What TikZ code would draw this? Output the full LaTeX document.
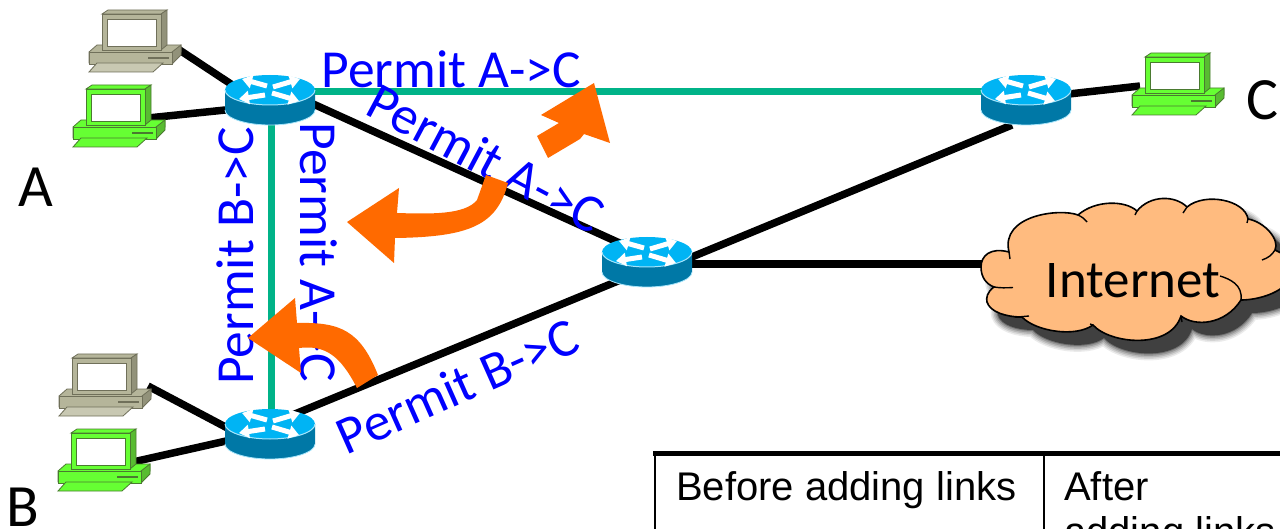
\documentclass[tikz,border=0pt]{standalone}
\usepackage{fontspec}
\setmainfont{Carlito}
\newfontfamily\arialfont{Liberation Sans}
\usetikzlibrary{arrows.meta}
\definecolor{rtop}{HTML}{00B4F4}
\definecolor{rside}{HTML}{0078A6}
\definecolor{linkgreen}{HTML}{00B388}
\definecolor{orangearrow}{HTML}{FF6A00}
\definecolor{cloudfill}{HTML}{FFBB7F}
\definecolor{pcgreen}{HTML}{66FF33}
\definecolor{pcgreendark}{HTML}{4A7A30}
\definecolor{pcbeige}{HTML}{B5B59A}
\definecolor{pcbeigedark}{HTML}{70705A}
\definecolor{pcbeigelight}{HTML}{C8C8B2}
\newcommand{\cloudpath}{(1009,252) .. controls (990,247) and (981,256) .. (981,267) .. controls (981,277) and (986,284) .. (994,287)
 .. controls (987,292) and (986,298) .. (987,302) .. controls (990,312) and (1006,317) .. (1022,317)
 .. controls (1035,331) and (1075,338) .. (1093,325)
 .. controls (1110,344) and (1170,350) .. (1181,316)
 .. controls (1195,327) and (1225,325) .. (1241,300)
 .. controls (1255,300) and (1275,295) .. (1285,285) -- (1285,255) -- (1275,250)
 .. controls (1280,240) and (1265,222) .. (1248,219)
 .. controls (1245,200) and (1205,192) .. (1187,207)
 .. controls (1175,195) and (1150,195) .. (1137,211)
 .. controls (1125,200) and (1095,200) .. (1078,215)
 .. controls (1060,208) and (1000,215) .. (1009,252) -- cycle}
\tikzset{
  wire/.style={line width=7.5pt,black},
  greenlink/.style={line width=7pt,linkgreen},
  bluetext/.style={text=blue,inner sep=0pt,font=\fontsize{53.5}{64}\selectfont},
  blacktext/.style={text=black,inner sep=0pt,font=\fontsize{53}{64}\selectfont},
  bigletter/.style={text=black,inner sep=0pt,font=\fontsize{60}{72}\selectfont},
  tabletext/.style={text=black,inner sep=0pt,anchor=base west,font=\arialfont\fontsize{40}{48}\selectfont},
  orangeshape/.style={fill=orangearrow,draw=none},
  rarrow/.style={white,line width=5pt,-{Triangle[length=10pt,width=13pt]}},
  pics/router/.style={code={
    \fill[rside] (-45,0) -- (-45,20) .. controls (-45,28) and (-25,35) .. (0,35) .. controls (25,35) and (45,28) .. (45,20) -- (45,0) -- cycle;
    \draw[rtop!35!white,line width=0.8pt] (-45,20) .. controls (-45,28) and (-25,35) .. (0,35) .. controls (25,35) and (45,28) .. (45,20);
    \fill[rtop] (0,0) ellipse [x radius=45pt,y radius=15pt];
    \draw[rtop!35!white,line width=1pt] (-45,0) .. controls (-45,8) and (-25,15) .. (0,15) .. controls (25,15) and (45,8) .. (45,0);
    \draw[rarrow] (-3,-4) -- (-28,-11);
    \draw[rarrow] (3,-3) -- (30,-11);
    \draw[rarrow] (-5,5) -- (-31,9);
    \draw[rarrow] (2,3) -- (29,11);
  }},
  pics/computer/.style n args={3}{code={
    \filldraw[fill=#1,draw=#2,line width=0.8pt] (-13,38) -- (-5,31) -- (79,31) -- (79,38) -- (71,49) -- (-13,49) -- cycle;
    \filldraw[fill=#2!50!#1,draw=#2,line width=0.8pt] (70,38) -- (79,31) -- (79,41) -- (70,50) -- cycle;
    \filldraw[fill=#1,draw=#2,line width=0.8pt] (-13,38) rectangle (70,50);
    \draw[#2,line width=1.2pt] (46,44) -- (67,44);
    \filldraw[fill=#3,draw=#2,line width=0.8pt] (-13,58) -- (-5,49) -- (61,49) -- (51,58) -- cycle;
    \filldraw[fill=#1,draw=#2,line width=0.8pt] (0,0) -- (6,-4) -- (65,-4) -- (59,0) -- cycle;
    \filldraw[fill=#2!50!#1,draw=#2,line width=0.8pt] (59,0) -- (65,-4) -- (65,31) -- (59,36) -- cycle;
    \filldraw[fill=#1,draw=#2,line width=0.8pt] (0,0) rectangle (59,36);
    \filldraw[fill=white,draw=#2,line width=0.8pt] (5,5) rectangle (54,32);
  }},
}
\begin{document}
\begin{tikzpicture}[x=1pt,y=-1pt]
\useasboundingbox (0,0) rectangle (1280,529);
\clip (0,0) rectangle (1280,529);
\fill[white] (0,0) rectangle (1280,529);
\coordinate (rA) at (270,90);
\coordinate (rC) at (1026,90);
\coordinate (rM) at (647,252);
\coordinate (rB) at (270,424);
\coordinate (pcA1) at (102,14);
\coordinate (pcA2) at (86,89);
\coordinate (pcB1) at (72,358);
\coordinate (pcB2) at (71,433);
\coordinate (pcC) at (1145,57);
\coordinate (pA1) at (178,49);
\coordinate (rA1) at (240,90);
\coordinate (pA2) at (148,118);
\coordinate (rA2) at (235,109);
\coordinate (pB1) at (148,386);
\coordinate (rB1) at (235,432);
\coordinate (pB2) at (133,462);
\coordinate (rB2) at (235,439);
\coordinate (pC1) at (1140,86);
\coordinate (rC1) at (1060,95);
\coordinate (rAm) at (300,98);
\coordinate (rMa) at (635,250);
\coordinate (rMc) at (670,266);
\coordinate (rCm) at (1012,125);
\coordinate (rMb) at (635,274);
\coordinate (rBm) at (290,416);
\coordinate (rMn) at (680,264);
\coordinate (cloudL) at (990,264);
\draw[greenlink] (rA) ++(30,2) coordinate (gA) -- (gA -| rC);
\draw[greenlink] (271,110) coordinate (gAd) -- (271,420) coordinate (gBu);
\draw[wire] (pA1) -- (rA1);
\draw[wire] (pA2) -- (rA2);
\draw[wire] (pB1) -- (rB1);
\draw[wire] (pB2) -- (rB2);
\draw[wire] (pC1) -- (rC1);
\draw[wire] (rAm) -- (rMa);
\draw[wire] (rMc) -- (rCm);
\draw[wire] (rMb) -- (rBm);
\draw[wire] (rMn) -- (cloudL);
\pic at (pcA1) {computer={pcbeige}{pcbeigedark}{pcbeigelight}};
\pic at (pcB1) {computer={pcbeige}{pcbeigedark}{pcbeigelight}};
\pic at (pcA2) {computer={pcgreen}{pcgreendark}{pcgreen}};
\pic at (pcB2) {computer={pcgreen}{pcgreendark}{pcgreen}};
\pic at (pcC) {computer={pcgreen}{pcgreendark}{pcgreen}};
\pic at (rA) {router};
\pic at (rC) {router};
\pic at (rM) {router};
\pic at (rB) {router};
\begin{scope}[shift={(11,13)}]
  \foreach \w/\o in {14/0.08,11/0.1,8/0.13,5/0.17,2/0.25}{
    \draw[black,opacity=\o,line width=\w pt,line join=round] \cloudpath;
  }
  \fill[black!75] \cloudpath;
\end{scope}
\filldraw[fill=cloudfill,draw=black,line width=1.6pt] \cloudpath;
\draw[black,line width=1.4pt] (1009,252) -- (1010,259);
\draw[black,line width=1.4pt] (994,287) .. controls (1000,288) and (1006,288) .. (1013,287.5);
\draw[black,line width=1.4pt] (1022,317) .. controls (1012,317.5) and (1018,317) .. (1029,316);
\draw[black,line width=1.4pt] (1093,325) -- (1090,324);
\draw[black,line width=1.4pt] (1181,316) -- (1182,322);
\draw[black,line width=1.4pt] (1241,300) .. controls (1243,285) and (1230,279) .. (1220,276);
\draw[black,line width=1.4pt] (1275,250) .. controls (1272,255) and (1268,258) .. (1262,260);
\draw[black,line width=1.4pt] (1248,219) -- (1247,223);
\draw[black,line width=1.4pt] (1187,207) -- (1183,213);
\draw[black,line width=1.4pt] (1137,211) -- (1135,215);
\draw[black,line width=1.4pt] (1078,215) .. controls (1082,217) and (1085,219) .. (1087,222);
\node[blacktext] (inet) at (1133,281) {Internet};
\node[bigletter] (lA) at (36,187) {A};
\node[bigletter] (lB) at (23,507) {B};
\node[bigletter] (lC) at (1262,100) {C};
\node[bluetext] (t1) at (451,69) {Permit A->C};
\node[bluetext,rotate=-28] (t2) at (486,158) {Permit A->C};
\node[bluetext,rotate=-90] (t3) at (319,252) {Permit A->C};
\node[bluetext,rotate=90] (t4) at (235,256) {Permit B->C};
\node[bluetext,rotate=24] (t5) at (457,386) {Permit B->C};
\fill[orangeshape] (537,136) -- (559,123) -- (541,115) -- (594,83) -- (610,143) -- (584,134) -- (580,139) -- (548,158) -- cycle;
\fill[orangeshape] (486,175) -- (508,183) .. controls (497,225) and (470,237) .. (395,238) -- (394,263) -- (347,222) -- (399,188) -- (397,213) .. controls (430,214) and (465,215) .. (477,200) -- cycle;
\fill[orangeshape] (357,388) -- (378,375) .. controls (360,330) and (340,322) .. (297,323) -- (295,298) -- (248,338) -- (301,373) -- (299,348) .. controls (325,345) and (340,355) .. (357,388) -- cycle;
\coordinate (tL) at (655,453);
\coordinate (tM) at (1044,453);
\coordinate (tR) at (1280,453);
\draw[black,line width=5pt] (653,453) -- (tR);
\draw[black,line width=2.5pt] (tL) -- (655,535);
\draw[black,line width=1.8pt] (tM) -- (1044,535);
\node[tabletext] (c1) at (676,500) {Before adding links};
\node[tabletext] (c2) at (1064,500) {After};
\node[tabletext] (c3) at (1064,545) {adding links};
\end{tikzpicture}
\end{document}
